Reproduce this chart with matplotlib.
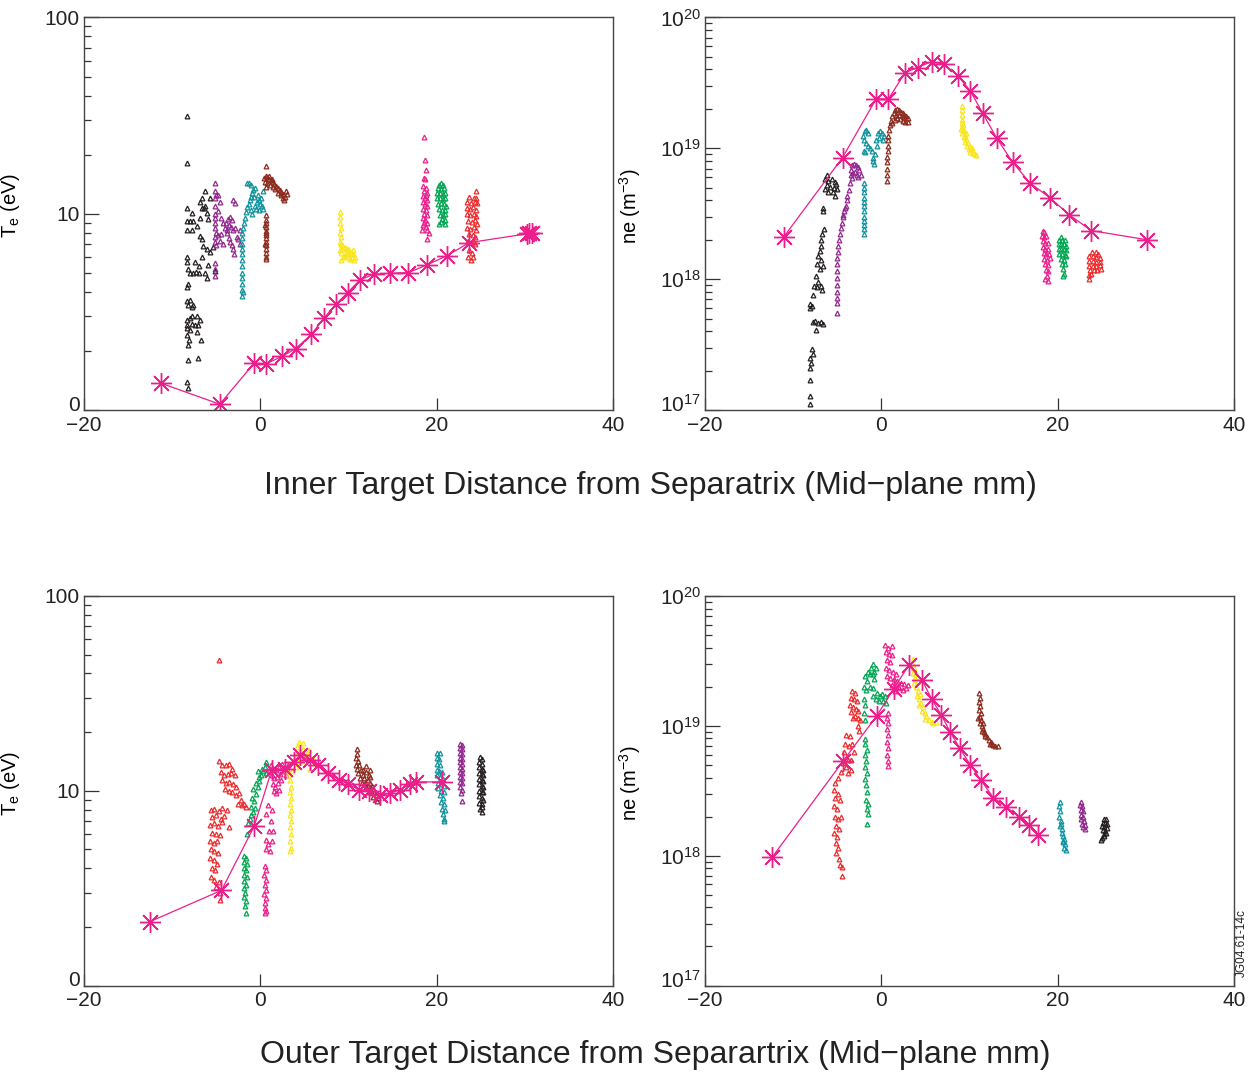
import matplotlib
matplotlib.use("Agg")
import matplotlib.pyplot as plt
from matplotlib.ticker import FixedLocator, FixedFormatter, LogLocator, NullFormatter
from matplotlib.transforms import ScaledTranslation

plt.rcParams['font.family'] = ['Liberation Sans', 'DejaVu Sans']
plt.rcParams['mathtext.fontset'] = 'custom'
plt.rcParams['mathtext.rm'] = 'Liberation Sans'
plt.rcParams['mathtext.it'] = 'Liberation Sans:italic'

BLACK = '#231F20'
PURPLE = '#92278F'
TEAL = '#0E939E'
MAROON = '#8C2A1E'
YELLOW = '#F9E51B'
PINK = '#EC1E8C'
GREEN = '#00A651'
RED = '#ED2A2C'

x_ticks = [-20, 0, 20, 40]
x_ticklabels = ['\u221220', '0', '20', '40']
te_ticks = [1, 10, 100]
te_ticklabels = ['0', '10', '100']
ne_ticks = [1e17, 1e18, 1e19, 1e20]
ne_ticklabels = [r'$\mathregular{10^{17}}$', r'$\mathregular{10^{18}}$',
                 r'$\mathregular{10^{19}}$', r'$\mathregular{10^{20}}$']

# ---- model (asterisks) ----
in_te_model_x = [-11.3, -4.6, -0.7, 0.7, 2.5, 4.0, 5.8, 7.2, 8.6, 9.9, 11.3, 12.9, 14.7, 16.8, 18.9, 21.2, 23.7, 30.2, 30.5, 30.8]
in_te_model_y = [1.37, 1.07, 1.73, 1.72, 1.88, 2.05, 2.43, 2.93, 3.46, 3.96, 4.6, 4.92, 4.97, 5.01, 5.48, 6.12, 7.12, 7.89, 7.95, 8.0]

in_ne_model_x = [-11.1, -4.4, -0.6, 0.8, 2.7, 4.1, 5.7, 7.1, 8.7, 10.1, 11.5, 13.1, 14.9, 16.9, 19.1, 21.3, 23.8, 30.1]
in_ne_model_y = [2.09e18, 8.5e18, 2.38e19, 2.38e19, 3.79e19, 4.14e19, 4.6e19, 4.4e19, 3.57e19, 2.74e19, 1.85e19,
                 1.19e19, 7.8e18, 5.4e18, 4.2e18, 3.1e18, 2.35e18, 2.0e18]

out_te_model_x = [-12.5, -4.4, -0.7, 1.3, 2.8, 3.8, 4.5, 5.6, 6.6, 7.7, 8.9, 10.0, 11.2, 12.3, 13.6, 14.7, 15.8, 17.0, 17.7, 20.6]
out_te_model_y = [2.13, 3.08, 6.56, 12.8, 13.0, 14.0, 15.2, 14.3, 13.5, 12.3, 11.4, 10.8, 10.1, 10.0, 9.5, 9.7, 10.1, 10.8, 11.1, 11.1]

out_ne_model_x = [-12.4, -4.3, -0.5, 1.4, 3.1, 4.6, 5.7, 6.8, 7.8, 8.9, 10.1, 11.3, 12.7, 14.1, 15.6, 16.8, 17.8]
out_ne_model_y = [9.7e17, 5.4e18, 1.2e19, 1.93e19, 2.92e19, 2.27e19, 1.61e19, 1.21e19, 9.0e18, 6.7e18, 5.0e18,
                  3.8e18, 2.8e18, 2.38e18, 2.0e18, 1.72e18, 1.44e18]

# ---- measured points, inner target, Te ----
in_te_black = [(-8.36, 31.3), (-8.36, 18.2), (-8.36, 10.7), (-7.79, 10.1), (-8.36, 9.2), (-7.98, 9.2), (-7.6, 9.2),
               (-8.36, 8.3), (-7.79, 8.3), (-7.22, 8.7), (-6.85, 9.5), (-6.66, 10.7), (-6.4, 10.7), (-6.09, 10.1),
               (-5.9, 9.4), (-5.71, 12.0), (-6.28, 13.1), (-6.66, 12.0), (-6.85, 11.5), (-6.28, 11.0), (-6.85, 7.7),
               (-6.6, 7.4), (-6.47, 6.85), (-6.09, 6.6), (-5.71, 6.35), (-5.33, 6.8), (-7.41, 5.65), (-6.9, 5.43),
               (-6.6, 6.0), (-5.9, 5.5), (-8.36, 6.0), (-8.3, 5.65), (-8.17, 5.22), (-7.98, 5.0), (-7.6, 5.0),
               (-7.3, 5.05), (-6.9, 5.0), (-6.28, 5.0), (-6.09, 4.73), (-5.14, 5.1), (-8.36, 4.25), (-8.17, 4.38),
               (-8.36, 3.57), (-7.98, 3.65), (-7.6, 3.43), (-8.17, 3.43), (-7.7, 3.35), (-8.36, 2.88), (-7.98, 2.95),
               (-7.79, 3.0), (-7.22, 3.0), (-6.85, 2.88), (-8.36, 2.72), (-7.79, 2.75), (-7.41, 2.72), (-7.03, 2.72),
               (-8.36, 2.61), (-7.98, 2.55), (-7.22, 2.5), (-8.36, 2.41), (-8.07, 2.27), (-6.75, 2.27), (-8.2, 2.14),
               (-8.2, 1.80), (-7.1, 1.83), (-8.36, 1.39), (-8.25, 1.29)]
in_te_purple = [(-5.14, 14.3), (-5.14, 13.0), (-5.0, 12.5), (-5.14, 12.0), (-5.14, 11.0), (-5.14, 10.0), (-5.14, 9.5),
                (-5.14, 9.0), (-5.14, 8.5), (-5.0, 8.0), (-5.14, 7.6), (-5.14, 7.2), (-5.0, 6.9), (-5.14, 5.6),
                (-5.14, 5.2), (-5.14, 4.8), (-4.77, 12.5), (-4.6, 11.5), (-4.77, 10.3), (-4.4, 9.5), (-4.2, 9.0),
                (-4.0, 8.5), (-3.8, 8.0), (-3.6, 7.5), (-3.44, 7.2), (-3.2, 6.9), (-3.07, 6.6), (-2.95, 6.2),
                (-3.63, 9.4), (-3.44, 9.6), (-3.25, 9.3), (-3.6, 8.8), (-3.3, 8.6), (-3.07, 8.3), (-2.88, 8.5),
                (-3.82, 8.3), (-3.9, 9.0), (-3.07, 11.7), (-2.88, 11.3), (-2.31, 8.3), (-2.5, 7.4), (-2.31, 7.0),
                (-2.6, 7.6), (-4.77, 7.8), (-4.58, 7.3), (-4.4, 7.9), (-4.2, 7.0)]
in_te_teal = [(-2.12, 8.0), (-2.12, 7.5), (-2.12, 7.0), (-2.12, 6.6), (-2.12, 6.2), (-2.12, 5.8), (-2.12, 5.4),
              (-2.12, 5.0), (-2.12, 4.7), (-2.12, 4.4), (-2.12, 4.1), (-2.0, 4.0), (-2.12, 3.8), (-2.0, 8.5),
              (-1.8, 9.0), (-1.7, 9.5), (-1.6, 10.2), (-1.45, 10.8), (-1.3, 11.2), (-1.2, 11.8), (-1.0, 12.2),
              (-0.9, 12.8), (-0.8, 13.2), (-0.6, 11.0), (-0.4, 11.5), (-0.2, 11.8), (0.0, 11.2), (0.2, 11.0),
              (-0.5, 10.6), (-0.1, 10.4), (-0.7, 12.2), (-0.3, 12.5), (0.1, 12.0), (-1.55, 14.3), (-1.3, 14.3),
              (-1.0, 14.0), (-0.6, 13.5), (-0.9, 10.0), (-1.1, 10.4), (0.3, 10.6), (0.3, 13.0)]
in_te_maroon = [(0.6, 17.6), (0.4, 15.2), (0.6, 15.5), (0.8, 15.3), (1.0, 15.0), (1.2, 14.8), (1.4, 14.5), (1.6, 14.2),
                (1.8, 13.8), (2.0, 13.5), (2.2, 13.2), (2.4, 12.9), (2.6, 12.6), (2.8, 12.2), (0.5, 14.5), (0.8, 14.3),
                (1.1, 14.0), (1.4, 13.7), (1.7, 13.3), (2.0, 12.8), (2.3, 12.4), (2.6, 12.0), (2.9, 13.0), (3.0, 12.6),
                (1.0, 15.6), (1.3, 15.1), (0.6, 13.6), (2.7, 11.7), (0.6, 9.3), (0.6, 9.0), (0.6, 8.6), (0.6, 8.2),
                (0.6, 7.8), (0.6, 7.5), (0.6, 7.2), (0.6, 6.9), (0.6, 6.6), (0.6, 6.3), (0.6, 6.0), (0.6, 5.86),
                (0.5, 7.0), (0.7, 8.0), (0.7, 9.8), (0.5, 8.8)]
in_te_yellow = [(9.04, 10.2), (9.04, 9.6), (9.04, 9.0), (9.1, 8.5), (9.04, 8.0), (9.1, 7.6), (9.0, 7.2), (9.1, 7.0),
                (9.3, 6.9), (9.5, 6.8), (9.7, 6.7), (9.9, 6.6), (10.1, 6.5), (10.3, 6.3), (10.5, 6.2), (10.7, 6.0),
                (9.2, 6.3), (9.4, 6.0), (9.6, 6.1), (9.8, 6.2), (10.0, 6.0), (10.2, 5.9), (10.4, 5.95), (9.1, 5.8),
                (9.3, 6.6), (9.7, 6.3), (10.1, 6.2), (10.5, 6.5), (10.6, 5.8), (9.0, 6.5)]
in_te_pink = [(18.55, 24.5), (18.68, 18.7), (18.75, 16.7), (18.6, 15.2), (18.7, 15.0), (18.5, 13.8), (18.8, 13.5),
              (18.6, 13.0), (18.9, 12.8), (18.5, 12.3), (18.7, 12.0), (18.9, 11.8), (18.45, 11.5), (18.7, 11.2),
              (18.95, 11.0), (18.5, 10.6), (18.8, 10.4), (18.6, 10.0), (18.9, 9.8), (18.45, 9.5), (18.7, 9.3),
              (18.95, 9.0), (18.5, 8.8), (18.8, 8.6), (18.4, 8.3), (18.9, 8.3), (19.1, 8.0), (18.9, 7.4),
              (18.6, 9.0), (18.8, 12.5)]
in_te_green = [(20.5, 14.4), (20.3, 14.0), (20.7, 14.0), (20.2, 13.5), (20.5, 13.3), (20.8, 13.5), (20.1, 12.8),
               (20.4, 12.7), (20.7, 12.6), (21.0, 12.8), (20.1, 12.0), (20.4, 12.0), (20.7, 11.9), (21.0, 12.0),
               (20.2, 11.2), (20.5, 11.3), (20.8, 11.2), (21.05, 11.0), (20.3, 10.6), (20.6, 10.4), (20.9, 10.5),
               (20.4, 9.9), (20.7, 9.8), (21.0, 10.0), (20.6, 9.4), (20.9, 9.3), (20.3, 8.9), (20.9, 8.9), (20.5, 9.1)]
in_te_red = [(24.5, 13.1), (23.7, 12.2), (24.2, 12.0), (24.5, 12.0), (23.5, 11.5), (23.9, 11.4), (24.3, 11.5),
             (24.6, 11.3), (23.5, 10.7), (23.8, 10.6), (24.1, 10.8), (24.5, 10.5), (23.5, 10.0), (23.8, 9.8),
             (24.2, 10.0), (24.5, 9.7), (23.6, 9.2), (24.0, 9.1), (24.3, 9.3), (24.6, 8.9), (23.5, 8.5), (23.8, 8.4),
             (24.2, 8.6), (24.5, 8.3), (23.7, 7.9), (24.1, 7.8), (24.4, 7.6), (23.6, 7.3), (24.2, 7.2), (23.7, 6.5),
             (24.0, 6.3), (23.6, 6.0), (23.9, 5.8), (24.1, 6.0), (24.3, 7.0)]

# ---- measured points, inner target, ne ----
in_ne_black = [(-6.2, 6.3e18), (-6.4, 5.8e18), (-6.0, 5.6e18), (-5.6, 5.8e18), (-5.3, 5.5e18), (-6.2, 5.2e18),
               (-5.8, 5.1e18), (-5.4, 5.0e18), (-6.4, 4.9e18), (-6.0, 4.6e18), (-5.1, 5.3e18), (-5.0, 4.9e18),
               (-5.5, 4.6e18), (-5.3, 4.3e18), (-6.6, 3.5e18), (-6.6, 3.3e18), (-6.5, 2.4e18), (-6.7, 2.2e18),
               (-6.9, 2.0e18), (-6.8, 1.8e18), (-7.0, 1.65e18), (-7.2, 1.5e18), (-6.9, 1.4e18), (-7.3, 1.3e18),
               (-7.0, 1.2e18), (-6.6, 1.25e18), (-7.4, 1.05e18), (-7.2, 9.5e17), (-7.6, 8.8e17), (-7.3, 8.7e17),
               (-6.9, 8.8e17), (-6.7, 8.3e17), (-7.7, 7.5e17), (-8.1, 6.5e17), (-8.1, 6.0e17), (-7.9, 6.2e17),
               (-7.8, 4.7e17), (-7.5, 4.8e17), (-7.2, 4.6e17), (-6.8, 4.7e17), (-6.6, 4.5e17), (-7.4, 4.1e17),
               (-7.9, 2.9e17), (-7.8, 2.7e17), (-8.1, 2.5e17), (-8.0, 2.3e17), (-8.15, 2.1e17), (-8.15, 1.7e17),
               (-8.15, 1.28e17), (-8.15, 1.12e17)]
in_ne_purple = [(-3.3, 7.5e18), (-3.1, 7.6e18), (-2.9, 7.5e18), (-2.7, 7.2e18), (-2.5, 6.8e18), (-2.3, 6.2e18),
                (-3.4, 6.8e18), (-3.2, 6.5e18), (-3.0, 6.6e18), (-2.8, 6.3e18), (-2.6, 6.0e18), (-3.5, 6.2e18),
                (-3.3, 5.9e18), (-3.56, 5.4e18), (-3.7, 4.8e18), (-3.85, 4.3e18), (-3.93, 4.0e18), (-4.05, 3.6e18),
                (-4.2, 3.3e18), (-4.31, 3.0e18), (-4.45, 2.7e18), (-4.6, 2.45e18), (-4.69, 2.2e18), (-4.8, 2.0e18),
                (-4.88, 1.8e18), (-4.95, 1.6e18), (-4.99, 1.45e18), (-4.99, 1.3e18), (-4.99, 1.15e18),
                (-4.99, 1.02e18), (-4.99, 9.0e17), (-4.99, 8.0e17), (-4.99, 7.2e17), (-5.0, 6.6e17),
                (-5.07, 5.5e17), (-4.3, 3.1e18), (-4.1, 3.5e18)]
in_ne_teal = [(-1.93, 5.4e18), (-1.93, 5.0e18), (-1.93, 4.6e18), (-1.93, 4.2e18), (-1.93, 3.9e18), (-1.93, 3.6e18),
              (-1.93, 3.3e18), (-1.93, 3.0e18), (-1.93, 2.8e18), (-1.93, 2.6e18), (-1.93, 2.4e18), (-1.93, 2.2e18),
              (-2.1, 1.25e19), (-1.9, 1.35e19), (-1.7, 1.38e19), (-1.5, 1.3e19), (-1.95, 1.15e19), (-1.75, 1.1e19),
              (-1.55, 1.05e19), (-1.3, 1.0e19), (-1.1, 9.5e18), (-2.0, 9.6e18), (-1.8, 9.3e18), (-1.0, 8.5e18),
              (-0.9, 8.0e18), (-0.7, 9.0e18), (-0.5, 1.05e19), (-0.3, 1.2e19), (-0.15, 1.35e19), (0.1, 1.3e19),
              (0.35, 1.25e19), (-0.4, 1.3e19), (0.2, 1.15e19), (-0.6, 1.15e19), (-0.8, 7.6e18)]
in_ne_maroon = [(0.68, 5.6e18), (0.68, 6.3e18), (0.68, 7.0e18), (0.68, 7.8e18), (0.68, 8.6e18), (0.7, 9.5e18),
                (0.72, 1.05e19), (0.75, 1.15e19), (0.8, 1.25e19), (0.85, 1.38e19), (0.95, 1.5e19), (1.1, 1.62e19),
                (1.25, 1.75e19), (1.4, 1.85e19), (1.6, 1.95e19), (1.8, 2.0e19), (2.0, 1.95e19), (2.2, 1.9e19),
                (2.4, 1.85e19), (2.6, 1.8e19), (2.8, 1.75e19), (3.0, 1.7e19), (1.5, 1.65e19), (1.8, 1.7e19),
                (2.1, 1.68e19), (2.4, 1.62e19), (2.7, 1.6e19), (3.0, 1.6e19), (1.2, 1.55e19), (2.0, 1.8e19),
                (2.6, 1.72e19), (1.65, 1.8e19)]
in_ne_yellow = [(9.2, 2.1e19), (9.2, 1.95e19), (9.15, 1.8e19), (9.1, 1.65e19), (9.15, 1.55e19), (9.3, 1.5e19),
                (9.1, 1.45e19), (9.25, 1.38e19), (9.4, 1.35e19), (9.2, 1.3e19), (9.5, 1.25e19), (9.35, 1.22e19),
                (9.65, 1.18e19), (9.5, 1.12e19), (9.8, 1.1e19), (9.7, 1.05e19), (10.0, 1.03e19), (9.9, 9.8e18),
                (10.2, 9.7e18), (10.1, 9.3e18), (10.4, 9.2e18), (10.6, 9.0e18), (10.75, 8.9e18), (9.0, 1.4e19),
                (9.6, 1.3e19), (10.3, 1.0e19)]
in_ne_pink = [(18.3, 2.35e18), (18.5, 2.3e18), (18.2, 2.15e18), (18.5, 2.1e18), (18.7, 2.15e18), (18.3, 1.95e18),
              (18.6, 1.9e18), (18.9, 1.9e18), (18.3, 1.75e18), (18.6, 1.7e18), (18.9, 1.7e18), (18.4, 1.58e18),
              (18.7, 1.55e18), (19.0, 1.55e18), (18.5, 1.42e18), (18.8, 1.4e18), (19.1, 1.45e18), (18.6, 1.3e18),
              (18.9, 1.28e18), (18.7, 1.18e18), (18.9, 1.15e18), (18.8, 1.05e18), (18.9, 9.7e17), (18.6, 1.0e18)]
in_ne_green = [(20.4, 2.1e18), (20.2, 2.0e18), (20.5, 2.0e18), (20.8, 2.0e18), (20.1, 1.85e18), (20.4, 1.85e18),
               (20.7, 1.85e18), (20.9, 1.8e18), (20.1, 1.7e18), (20.4, 1.7e18), (20.7, 1.7e18), (21.0, 1.68e18),
               (20.2, 1.55e18), (20.5, 1.55e18), (20.8, 1.52e18), (21.0, 1.5e18), (20.4, 1.42e18), (20.7, 1.4e18),
               (20.5, 1.3e18), (20.8, 1.3e18), (20.6, 1.2e18), (20.7, 1.1e18), (20.6, 1.05e18)]
in_ne_red = [(23.9, 1.6e18), (24.3, 1.6e18), (24.6, 1.55e18), (23.6, 1.5e18), (24.0, 1.5e18), (24.4, 1.48e18),
             (24.8, 1.45e18), (23.6, 1.38e18), (24.0, 1.38e18), (24.4, 1.36e18), (24.8, 1.35e18), (23.6, 1.27e18),
             (24.0, 1.27e18), (24.4, 1.25e18), (24.8, 1.28e18), (23.7, 1.18e18), (24.1, 1.17e18), (24.5, 1.17e18),
             (24.9, 1.2e18), (23.5, 1.08e18), (23.6, 1.0e18), (23.8, 1.1e18)]

# ---- measured points, outer target, Te ----
out_te_red = [(-4.7, 47.0), (-4.7, 14.2), (-4.3, 13.5), (-3.9, 13.6), (-3.5, 13.8), (-3.2, 13.0), (-4.5, 12.5),
              (-4.1, 12.0), (-3.7, 12.2), (-3.3, 12.3), (-2.9, 12.0), (-4.3, 11.3), (-3.9, 11.0), (-3.5, 11.1),
              (-3.1, 10.8), (-2.7, 10.5), (-4.0, 10.2), (-3.6, 10.0), (-3.2, 9.8), (-2.8, 9.5), (-2.4, 9.7),
              (-2.2, 9.0), (-2.5, 8.6), (-2.1, 8.4), (-1.8, 8.6), (-1.6, 8.3), (-5.6, 8.0), (-5.2, 8.1), (-4.7, 7.9),
              (-4.3, 8.2), (-3.8, 8.0), (-5.5, 7.3), (-5.0, 7.5), (-4.5, 7.2), (-4.1, 7.4), (-5.7, 6.7), (-5.3, 6.8),
              (-4.8, 6.6), (-4.3, 6.9), (-3.6, 6.5), (-5.5, 6.1), (-5.0, 6.0), (-4.6, 5.9), (-5.7, 5.5), (-5.3, 5.4),
              (-4.9, 5.5), (-5.6, 5.0), (-5.2, 4.9), (-4.8, 4.8), (-5.7, 4.5), (-5.3, 4.4), (-4.9, 4.2), (-5.5, 4.0),
              (-5.1, 3.9), (-5.6, 3.6), (-5.2, 3.5), (-4.7, 3.4), (-5.0, 3.2), (-4.6, 3.0), (-4.6, 2.75)]
out_te_green = [(-1.9, 4.6), (-1.6, 4.5), (-1.8, 4.3), (-1.5, 4.2), (-1.9, 4.0), (-1.6, 3.9), (-1.8, 3.7), (-1.5, 3.6),
                (-1.9, 3.45), (-1.6, 3.3), (-1.8, 3.15), (-1.7, 3.0), (-1.9, 2.85), (-1.6, 2.7), (-1.75, 2.55),
                (-1.6, 2.35), (-1.5, 6.0), (-1.4, 6.8), (-1.2, 7.2), (-1.0, 7.5), (-0.8, 7.8), (-0.6, 8.2),
                (-0.9, 9.2), (-0.5, 9.6), (-0.8, 10.2), (-0.3, 10.5), (-0.5, 11.0), (-0.1, 11.2), (-0.2, 11.8),
                (0.1, 12.0), (0.3, 12.6), (0.5, 13.2), (0.7, 14.0), (0.6, 12.4), (0.2, 13.0), (-0.3, 12.6),
                (-0.7, 8.9), (-1.1, 8.3)]
out_te_pink = [(0.5, 4.1), (0.6, 3.9), (0.45, 3.7), (0.6, 3.5), (0.5, 3.3), (0.6, 3.1), (0.45, 2.95), (0.6, 2.8),
               (0.5, 2.65), (0.55, 2.5), (0.5, 2.35), (0.6, 2.4), (0.6, 7.6), (1.2, 7.0), (1.0, 6.2), (0.6, 5.6),
               (0.9, 5.3), (1.3, 5.5), (0.6, 5.0), (1.1, 4.9), (1.4, 6.2), (1.3, 8.0), (0.9, 8.4), (1.2, 13.5),
               (1.5, 13.0), (1.8, 12.8), (2.1, 13.3), (2.5, 13.8), (1.3, 12.0), (1.6, 11.6), (1.9, 11.8), (2.2, 12.2),
               (2.6, 12.6), (3.0, 13.0), (1.4, 10.8), (1.7, 10.5), (2.0, 10.9), (2.4, 11.3), (1.5, 10.0), (1.8, 9.7),
               (2.1, 10.1), (2.9, 12.0), (3.2, 13.5), (1.0, 12.8)]
out_te_yellow = [(3.4, 11.3), (3.5, 10.5), (3.4, 9.8), (3.5, 9.2), (3.4, 8.6), (3.5, 8.0), (3.4, 7.5), (3.5, 7.0),
                 (3.4, 6.5), (3.5, 6.0), (3.4, 5.5), (3.45, 5.1), (3.4, 4.9), (3.3, 12.0), (3.6, 12.6), (4.0, 13.2),
                 (4.3, 14.0), (4.0, 15.2), (4.4, 15.8), (4.8, 16.3), (5.1, 15.5), (4.6, 14.8), (5.0, 14.2),
                 (5.4, 15.0), (4.2, 16.8), (4.9, 17.5), (5.5, 16.2), (3.8, 14.5), (6.0, 14.8), (6.2, 13.8),
                 (5.6, 13.0), (4.4, 17.8), (3.1, 12.5)]
out_te_maroon = [(11.0, 16.4), (11.0, 15.5), (10.9, 14.8), (11.1, 14.2), (10.9, 13.6), (11.2, 13.5), (11.0, 13.0),
                 (11.4, 12.8), (11.1, 12.3), (11.6, 12.0), (11.3, 11.6), (11.8, 11.6), (12.0, 12.5), (12.3, 12.0),
                 (11.5, 11.0), (11.9, 11.0), (12.2, 11.3), (12.5, 11.0), (12.0, 10.5), (12.4, 10.4), (12.7, 10.6),
                 (12.6, 10.0), (12.9, 9.8), (13.1, 9.5), (13.3, 9.2), (13.2, 8.9), (12.8, 9.3), (12.3, 9.8),
                 (11.6, 12.8), (12.5, 11.8), (12.0, 13.4), (12.4, 12.8)]
out_te_teal = [(20.1, 15.6), (20.4, 15.6), (20.0, 14.8), (20.3, 14.5), (20.1, 13.8), (20.4, 13.5), (20.0, 12.8),
               (20.3, 12.6), (20.6, 12.5), (20.1, 12.0), (20.4, 11.7), (20.7, 11.5), (20.2, 11.0), (20.5, 10.8),
               (20.8, 10.6), (20.2, 10.3), (20.5, 10.0), (20.8, 9.8), (20.4, 9.5), (20.7, 9.2), (20.5, 8.8),
               (20.8, 8.5), (20.6, 8.1), (20.9, 8.0), (20.7, 7.6), (20.8, 7.2), (20.8, 7.0)]
out_te_purple = [(22.7, 17.4), (22.9, 17.2), (22.6, 16.5), (22.9, 16.3), (22.6, 15.6), (22.9, 15.4), (22.6, 14.8),
                 (22.9, 14.6), (22.6, 14.0), (22.9, 13.8), (22.6, 13.2), (22.9, 13.0), (22.6, 12.5), (22.9, 12.3),
                 (22.65, 11.8), (22.9, 11.6), (22.7, 11.1), (22.9, 10.9), (22.7, 10.5), (22.85, 10.1), (22.8, 9.7),
                 (22.9, 8.9)]
out_te_black = [(24.9, 14.9), (25.1, 14.5), (24.8, 14.0), (25.2, 13.8), (24.8, 13.2), (25.1, 13.0), (25.3, 12.8),
                (24.8, 12.4), (25.1, 12.2), (25.3, 12.0), (24.8, 11.5), (25.1, 11.4), (25.3, 11.2), (24.8, 10.8),
                (25.1, 10.6), (25.3, 10.5), (24.8, 10.0), (25.1, 9.9), (25.3, 9.8), (24.8, 9.4), (25.1, 9.2),
                (25.3, 9.0), (24.8, 8.7), (25.1, 8.6), (25.2, 8.3), (24.9, 8.1), (25.1, 7.8)]

# ---- measured points, outer target, ne ----
out_ne_red = [(-3.3, 1.85e19), (-3.0, 1.8e19), (-3.5, 1.65e19), (-3.1, 1.6e19), (-2.8, 1.55e19), (-3.6, 1.45e19),
              (-3.2, 1.4e19), (-2.9, 1.35e19), (-2.6, 1.3e19), (-3.4, 1.28e19), (-3.0, 1.2e19), (-2.7, 1.15e19),
              (-2.4, 1.1e19), (-2.6, 1.0e19), (-2.5, 9.2e18), (-3.2, 1.15e19), (-4.0, 8.5e18), (-3.6, 8.3e18),
              (-4.1, 7.3e18), (-3.7, 7.0e18), (-3.3, 7.2e18), (-3.1, 6.3e18), (-4.2, 6.3e18), (-3.8, 5.5e18),
              (-3.4, 5.5e18), (-4.0, 4.8e18), (-3.5, 4.6e18), (-3.8, 4.3e18), (-4.4, 5.2e18), (-4.6, 4.4e18),
              (-4.9, 4.0e18), (-5.3, 3.6e18), (-5.4, 3.2e18), (-4.9, 3.0e18), (-5.3, 2.8e18), (-4.7, 2.7e18),
              (-5.4, 2.4e18), (-5.0, 2.3e18), (-4.6, 2.0e18), (-5.3, 2.0e18), (-4.9, 1.9e18), (-5.2, 1.7e18),
              (-4.8, 1.6e18), (-5.4, 1.5e18), (-5.0, 1.4e18), (-5.2, 1.25e18), (-4.9, 1.15e18), (-5.2, 1.05e18),
              (-4.8, 9.5e17), (-4.7, 8.5e17), (-4.5, 8.2e17), (-4.5, 7.0e17)]
out_ne_green = [(-0.9, 3.0e19), (-0.6, 2.8e19), (-1.2, 2.8e19), (-1.5, 2.6e19), (-1.3, 2.5e19), (-0.8, 2.6e19),
                (-1.0, 2.5e19), (-0.8, 2.3e19), (-1.9, 2.4e19), (-1.6, 2.2e19), (-2.0, 2.0e19), (-1.7, 1.9e19),
                (-1.3, 2.0e19), (-0.9, 1.95e19), (-0.5, 1.8e19), (-0.2, 1.7e19), (0.1, 1.75e19), (0.4, 1.7e19),
                (-0.6, 1.6e19), (-0.3, 1.55e19), (0.2, 1.55e19), (0.5, 1.5e19), (-1.0, 1.7e19), (-2.0, 1.6e19),
                (-1.8, 1.45e19), (-2.0, 1.25e19), (-1.9, 1.1e19), (-1.8, 7.9e18), (-1.9, 7.2e18), (-1.6, 6.5e18),
                (-1.9, 6.0e18), (-1.7, 5.4e18), (-1.8, 4.8e18), (-1.6, 4.3e18), (-1.8, 3.9e18), (-1.7, 3.5e18),
                (-1.6, 3.1e18), (-1.7, 2.7e18), (-1.55, 2.5e18), (-1.65, 2.3e18), (-1.55, 2.1e18), (-1.6, 1.75e18)]
out_ne_pink = [(0.45, 4.2e19), (0.8, 4.0e19), (1.15, 4.1e19), (0.5, 3.7e19), (0.9, 3.6e19), (1.2, 3.5e19),
               (0.6, 3.2e19), (1.0, 3.1e19), (0.5, 2.8e19), (0.9, 2.7e19), (1.3, 2.6e19), (1.7, 2.5e19),
               (0.6, 2.4e19), (1.0, 2.35e19), (1.4, 2.3e19), (1.8, 2.2e19), (2.2, 2.15e19), (2.6, 2.1e19),
               (1.2, 2.05e19), (1.6, 2.0e19), (2.0, 1.95e19), (2.4, 1.9e19), (2.8, 1.95e19), (3.0, 2.05e19),
               (1.5, 1.85e19), (0.7, 1.25e19), (0.6, 1.15e19), (0.8, 1.05e19), (0.65, 9.5e18), (0.75, 8.5e18),
               (0.6, 7.5e18), (0.75, 6.7e18), (0.65, 6.0e18), (0.75, 5.4e18), (0.7, 4.9e18)]
out_ne_yellow = [(3.6, 3.3e19), (3.5, 3.0e19), (3.7, 2.8e19), (3.6, 2.55e19), (3.8, 2.35e19), (3.7, 2.15e19),
                 (3.95, 2.0e19), (4.1, 1.85e19), (4.0, 1.7e19), (4.3, 1.6e19), (4.5, 1.5e19), (4.3, 1.45e19),
                 (4.7, 1.4e19), (4.6, 1.3e19), (4.9, 1.25e19), (5.1, 1.2e19), (5.0, 1.13e19), (5.4, 1.1e19),
                 (5.7, 1.07e19), (5.9, 1.05e19), (6.2, 1.07e19), (3.9, 2.5e19), (4.2, 2.2e19), (4.4, 1.75e19)]
out_ne_maroon = [(11.1, 1.8e19), (11.15, 1.65e19), (11.1, 1.52e19), (11.2, 1.42e19), (11.1, 1.32e19),
                 (11.25, 1.25e19), (11.15, 1.18e19), (11.3, 1.1e19), (11.2, 1.05e19), (11.4, 1.0e19), (11.5, 9.5e18),
                 (11.6, 9.0e18), (11.8, 8.6e18), (12.0, 8.2e18), (12.2, 7.8e18), (12.4, 7.5e18), (12.6, 7.2e18),
                 (12.9, 7.0e18), (13.2, 7.0e18), (11.4, 9.2e18), (11.7, 8.4e18), (12.3, 7.3e18), (12.7, 7.1e18),
                 (11.0, 1.15e19), (11.5, 1.05e19)]
out_ne_teal = [(20.25, 2.6e18), (20.2, 2.4e18), (20.3, 2.2e18), (20.2, 2.0e18), (20.35, 1.85e18), (20.3, 1.7e18),
               (20.45, 1.6e18), (20.5, 1.5e18), (20.6, 1.42e18), (20.7, 1.35e18), (20.65, 1.28e18), (20.8, 1.22e18),
               (20.75, 1.15e18), (20.9, 1.1e18), (20.4, 1.75e18), (20.6, 1.3e18)]
out_ne_purple = [(22.6, 2.6e18), (22.5, 2.45e18), (22.8, 2.4e18), (22.6, 2.25e18), (22.9, 2.2e18), (22.6, 2.05e18),
                 (22.9, 2.0e18), (22.7, 1.9e18), (23.0, 1.85e18), (22.8, 1.75e18), (23.1, 1.72e18), (22.9, 1.65e18),
                 (23.1, 1.6e18)]
out_ne_black = [(25.2, 1.93e18), (25.5, 1.9e18), (25.1, 1.8e18), (25.4, 1.78e18), (25.6, 1.75e18), (25.0, 1.68e18),
                (25.3, 1.66e18), (25.6, 1.63e18), (25.1, 1.57e18), (25.4, 1.55e18), (25.2, 1.48e18), (25.5, 1.5e18),
                (25.0, 1.38e18), (24.95, 1.33e18), (25.3, 1.42e18)]


def draw_points(ax, pts, col):
    xs = [p[0] for p in pts]
    ys = [p[1] for p in pts]
    ax.plot(xs, ys, ls='none', marker='^', ms=3.4, mfc='none', mec=col, mew=0.9)


def style_axes(ax, kind):
    ax.set_xlim(-20, 40)
    ax.xaxis.set_major_locator(FixedLocator(x_ticks))
    ax.xaxis.set_major_formatter(FixedFormatter(x_ticklabels))
    ax.set_yscale('log')
    if kind == 'te':
        ax.set_ylim(1, 100)
        ax.yaxis.set_major_locator(FixedLocator(te_ticks))
        ax.yaxis.set_major_formatter(FixedFormatter(te_ticklabels))
        ax.set_ylabel(r'$\mathregular{T_e}$ (eV)', fontsize=14.5)
    else:
        ax.set_ylim(1e17, 1e20)
        ax.yaxis.set_major_locator(FixedLocator(ne_ticks))
        ax.yaxis.set_major_formatter(FixedFormatter(ne_ticklabels))
        ax.set_ylabel(r'ne (m$^{\mathregular{-3}}$)', fontsize=14.5)
    ax.yaxis.set_minor_locator(LogLocator(base=10, subs=range(2, 10)))
    ax.yaxis.set_minor_formatter(NullFormatter())
    ax.yaxis.set_label_coords(-0.118, 0.52)
    ax.tick_params(axis='both', which='both', direction='in', top=False, right=False,
                   labelsize=15, color='#333333', width=0.9, labelcolor='#222222')
    ax.tick_params(axis='y', which='major', length=11, pad=3)
    ax.tick_params(axis='y', which='minor', length=5)
    ax.tick_params(axis='x', which='major', length=9, pad=4)
    for sp in ax.spines.values():
        sp.set_color('#444444')
        sp.set_linewidth(1.0)
    # bottom y label sits a little above the corner, as in the original
    bottom = ax.yaxis.get_major_ticks()[0].label1
    bottom.set_transform(bottom.get_transform() + ScaledTranslation(0, 5 / 72, ax.figure.dpi_scale_trans))


def draw_model(ax, xs, ys):
    ax.plot(xs, ys, color=PINK, lw=0.9, marker=(8, 2, 0), ms=15, mew=1.0, mec=PINK)


fig = plt.figure(figsize=(12.57, 10.76), dpi=100)

ax1 = fig.add_axes([0.0668, 0.6190, 0.4208, 0.3648])
ax2 = fig.add_axes([0.5609, 0.6190, 0.4208, 0.3648])
ax3 = fig.add_axes([0.0668, 0.0841, 0.4208, 0.3620])
ax4 = fig.add_axes([0.5609, 0.0841, 0.4208, 0.3620])

# inner Te
for pts, col in [(in_te_black, BLACK), (in_te_purple, PURPLE), (in_te_teal, TEAL), (in_te_maroon, MAROON),
                 (in_te_yellow, YELLOW), (in_te_pink, PINK), (in_te_green, GREEN), (in_te_red, RED)]:
    draw_points(ax1, pts, col)
draw_model(ax1, in_te_model_x, in_te_model_y)
style_axes(ax1, 'te')

# inner ne
for pts, col in [(in_ne_black, BLACK), (in_ne_purple, PURPLE), (in_ne_teal, TEAL), (in_ne_maroon, MAROON),
                 (in_ne_yellow, YELLOW), (in_ne_pink, PINK), (in_ne_green, GREEN), (in_ne_red, RED)]:
    draw_points(ax2, pts, col)
draw_model(ax2, in_ne_model_x, in_ne_model_y)
style_axes(ax2, 'ne')

# outer Te
for pts, col in [(out_te_red, RED), (out_te_green, GREEN), (out_te_pink, PINK), (out_te_yellow, YELLOW),
                 (out_te_maroon, MAROON), (out_te_teal, TEAL), (out_te_purple, PURPLE), (out_te_black, BLACK)]:
    draw_points(ax3, pts, col)
draw_model(ax3, out_te_model_x, out_te_model_y)
style_axes(ax3, 'te')

# outer ne
for pts, col in [(out_ne_red, RED), (out_ne_green, GREEN), (out_ne_pink, PINK), (out_ne_yellow, YELLOW),
                 (out_ne_maroon, MAROON), (out_ne_teal, TEAL), (out_ne_purple, PURPLE), (out_ne_black, BLACK)]:
    draw_points(ax4, pts, col)
draw_model(ax4, out_ne_model_x, out_ne_model_y)
style_axes(ax4, 'ne')

fig.text(650 / 1257, 1 - 486 / 1076, 'Inner Target Distance from Separatrix (Mid\u2212plane mm)',
         ha='center', va='center', fontsize=23, color='#222222')
fig.text(655 / 1257, 1 - 1055 / 1076, 'Outer Target Distance from Separartrix (Mid\u2212plane mm)',
         ha='center', va='center', fontsize=23, color='#222222')
fig.text(1242 / 1257, 1 - 943 / 1076, 'JG04.61-14c', rotation=90, ha='center', va='center',
         fontsize=8.5, color='#222222')

fig.savefig('out.png', dpi=100)
